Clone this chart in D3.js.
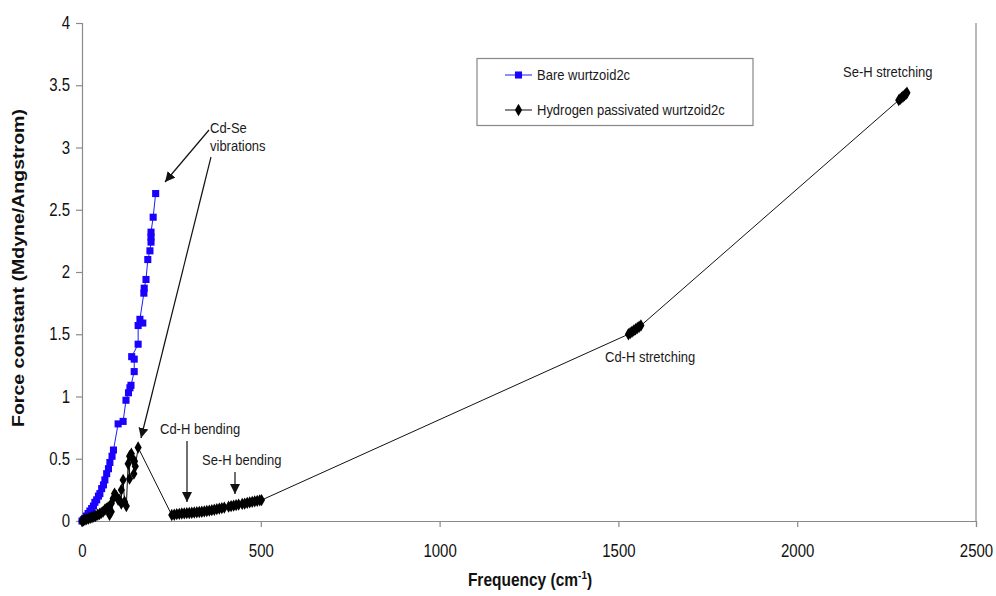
<!DOCTYPE html>
<html><head><meta charset="utf-8">
<script src="https://cdn.jsdelivr.net/npm/d3@7"></script>
<style>body{margin:0;background:#fff}svg{display:block;font-family:"Liberation Sans",Arial,sans-serif}</style>
</head><body><svg id="c" width="996" height="596"></svg>
<script>
const xTicks = [0, 500, 1000, 1500, 2000, 2500];
const yTicks = [0, 0.5, 1, 1.5, 2, 2.5, 3, 3.5, 4];
const yTickLabels = ["0", "0.5", "1", "1.5", "2", "2.5", "3", "3.5", "4"];
const seriesNames = ["Bare wurtzoid2c", "Hydrogen passivated wurtzoid2c"];

const bareFreq = [0,4,8,12,17,22,27,32,36,41,46,50,55,60,64,69,74,78,84,88,101,115,123,130,134,137,146,146,139,157,157,170,162,173,174,179,184,190,193,193,193,199,206];
const bareK = [0,0.01,0.02,0.04,0.06,0.08,0.1,0.12,0.15,0.17,0.2,0.22,0.26,0.29,0.33,0.38,0.42,0.47,0.52,0.57,0.78,0.8,0.97,1.03,1.07,1.09,1.2,1.3,1.32,1.42,1.57,1.59,1.62,1.83,1.87,1.94,2.1,2.17,2.24,2.28,2.32,2.44,2.63];

const hFreq = [0,4,8,13,18,23,28,33,38,44,49,54,59,64,68,73,77,77,82,82,87,91,96,101,105,110,110,115,119,124,129,133,133,138,143,145,147,149,157,
  251,258,265,272,279,286,293,300,307,314,321,328,335,342,349,356,363,370,377,384,391,398,410,417,424,431,438,448,455,462,469,476,483,490,497,502,
  1528,1533,1538,1543,1548,1553,1558,1563,
  2284,2288,2292,2296,2300,2304,2307];
const hK = [0,0.005,0.01,0.015,0.02,0.025,0.03,0.035,0.04,0.05,0.056,0.065,0.075,0.09,0.1,0.11,0.115,0.05,0.075,0.14,0.18,0.22,0.2,0.17,0.17,0.14,0.25,0.33,0.155,0.12,0.46,0.34,0.52,0.54,0.49,0.38,0.48,0.44,0.59,
  0.048,0.05,0.055,0.057,0.06,0.061,0.063,0.064,0.066,0.068,0.07,0.072,0.074,0.077,0.08,0.083,0.087,0.09,0.095,0.1,0.104,0.108,0.115,0.12,0.124,0.128,0.132,0.137,0.14,0.145,0.15,0.154,0.158,0.162,0.166,0.168,
  1.5,1.51,1.52,1.53,1.54,1.55,1.56,1.57,
  3.38,3.39,3.4,3.41,3.42,3.43,3.44];

const svg = d3.select("#c");
const L = 82, R = 976, T = 23, B = 521;
const x = d3.scaleLinear().domain([0, 2500]).range([L, R]);
const y = d3.scaleLinear().domain([0, 4]).range([B, T]);
const axisCol = "#8a8a8a";
const SY = 1.18;

const defs = svg.append("defs");
defs.append("marker").attr("id","ah").attr("viewBox","0 0 10 10").attr("refX",10).attr("refY",5)
  .attr("markerWidth",10).attr("markerHeight",10).attr("markerUnits","userSpaceOnUse").attr("orient","auto")
  .append("path").attr("d","M0,0L10,5L0,10z").attr("fill","#111");

svg.append("line").attr("x1",R).attr("x2",R).attr("y1",T).attr("y2",B).attr("stroke",axisCol).attr("stroke-width",1.2);

const xa = svg.append("g").attr("transform",`translate(0,${B})`)
  .call(d3.axisBottom(x).tickValues(xTicks).tickSize(6).tickFormat(d3.format("d")));
const ya = svg.append("g").attr("transform",`translate(${L},0)`)
  .call(d3.axisLeft(y).tickValues(yTicks).tickSize(6).tickPadding(6).tickFormat((d,i)=>yTickLabels[i]));
[xa, ya].forEach(g=>{
  g.select(".domain").attr("stroke",axisCol).attr("stroke-width",1.2);
  g.selectAll(".tick line").attr("stroke",axisCol).attr("stroke-width",1.2);
  g.selectAll("text").attr("font-size",15).attr("fill","#111").attr("font-family","Liberation Sans, Arial, sans-serif")
    .attr("transform",`scale(1,${SY})`);
});
xa.selectAll("text").attr("dy",0).attr("y",36/SY);

svg.append("text").attr("transform","translate(24,268) rotate(-90)").attr("text-anchor","middle")
  .attr("font-size",16).attr("font-weight","bold").attr("fill","#111")
  .attr("textLength",318).attr("lengthAdjust","spacingAndGlyphs").text("Force constant (Mdyne/Angstrom)");
const xt = svg.append("g").attr("transform",`translate(530,586) scale(1,${SY})`).append("text").attr("text-anchor","middle")
  .attr("font-size",15.5).attr("font-weight","bold").attr("fill","#111");
xt.append("tspan").text("Frequency (cm");
xt.append("tspan").attr("dy",-6).attr("font-size",10).text("-1");
xt.append("tspan").attr("dy",6).text(")");

const bare = bareFreq.map((f,i)=>[f,bareK[i]]);
const hyd = hFreq.map((f,i)=>[f,hK[i]]);
const line = d3.line().x(d=>x(d[0])).y(d=>y(d[1]));
svg.append("path").datum(bare).attr("d",line).attr("fill","none").attr("stroke","#1a1aff").attr("stroke-width",1);
svg.append("path").datum(hyd).attr("d",line).attr("fill","none").attr("stroke","#111").attr("stroke-width",1);
const sq = d3.symbol().type(d3.symbolSquare).size(50);
const dm = d3.symbol().type(d3.symbolDiamond).size(44);
svg.append("g").selectAll("path").data(bare).join("path").attr("d",sq)
  .attr("transform",d=>`translate(${x(d[0])},${y(d[1])})`).attr("fill","#1a00ff");
svg.append("g").selectAll("path").data(hyd).join("path").attr("d",dm)
  .attr("transform",d=>`translate(${x(d[0])},${y(d[1])})`).attr("fill","#000");

function label(px, py, str, size, sy){
  svg.append("g").attr("transform",`translate(${px},${py}) scale(1,${sy})`)
    .append("text").attr("font-size",size).attr("fill","#1a1a1a").text(str);
}

svg.append("rect").attr("x",477).attr("y",58.5).attr("width",276).attr("height",67).attr("fill","#fff").attr("stroke","#888").attr("stroke-width",1.2);
const lg = [{y:75, c:"#1a1aff", s:sq, f:"#1a00ff"},{y:110, c:"#111", s:dm, f:"#000"}];
lg.forEach((e,i)=>{
  svg.append("line").attr("x1",505).attr("x2",532).attr("y1",e.y).attr("y2",e.y).attr("stroke",e.c).attr("stroke-width",1);
  svg.append("path").attr("d",e.s).attr("transform",`translate(518.5,${e.y})`).attr("fill",e.f);
  label(537, e.y+5, seriesNames[i], 13, SY);
});

label(210,133,"Cd-Se",13,SY);
label(210,151,"vibrations",13,SY);
label(160,434,"Cd-H bending",13,SY);
label(202,465,"Se-H bending",13,SY);
label(605,362,"Cd-H stretching",13,SY);
label(843,77,"Se-H stretching",13,SY);
const arrows = [[209,130,165,182],[211,157,141,438],[187,441,187,502],[235,472,235,494]];
svg.append("g").selectAll("line").data(arrows).join("line")
  .attr("x1",d=>d[0]).attr("y1",d=>d[1]).attr("x2",d=>d[2]).attr("y2",d=>d[3])
  .attr("stroke","#111").attr("stroke-width",1.2).attr("marker-end","url(#ah)");
</script></body></html>
